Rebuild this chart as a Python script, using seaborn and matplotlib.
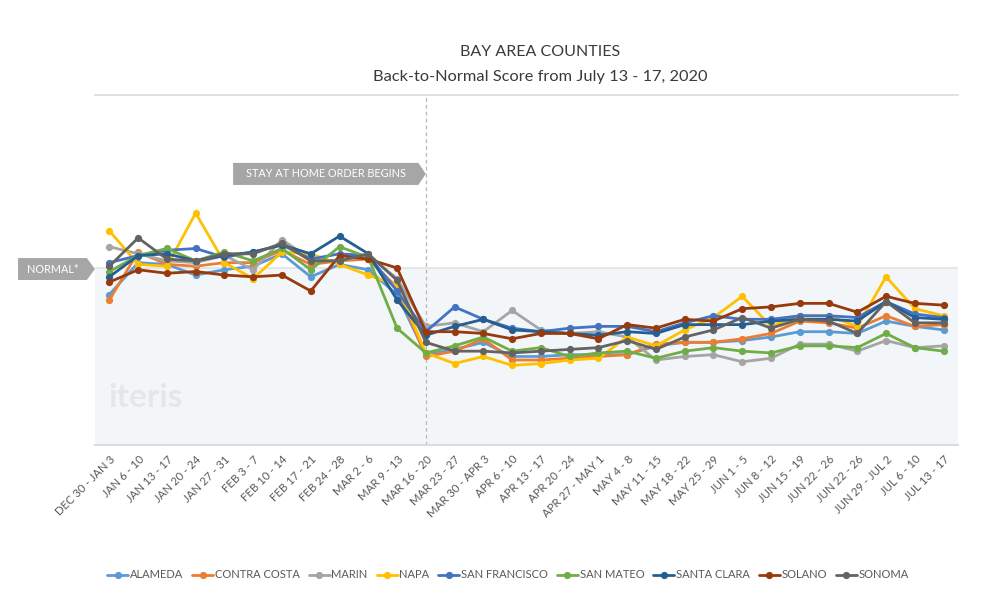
import numpy as np
import pandas as pd
import seaborn as sns
import matplotlib.pyplot as plt
import matplotlib.transforms as mtransforms
from matplotlib.patches import Polygon

weeks = ["DEC 30 - JAN 3", "JAN 6 - 10", "JAN 13 - 17", "JAN 20 - 24", "JAN 27 - 31",
         "FEB 3 - 7", "FEB 10 - 14", "FEB 17 - 21", "FEB 24 - 28", "MAR 2 - 6",
         "MAR 9 - 13", "MAR 16 - 20", "MAR 23 - 27", "MAR 30 - APR 3", "APR 6 - 10",
         "APR 13 - 17", "APR 20 - 24", "APR 27 - MAY 1", "MAY 4 - 8", "MAY 11 - 15",
         "MAY 18 - 22", "MAY 25 - 29", "JUN 1 - 5", "JUN 8 - 12", "JUN 15 - 19",
         "JUN 22 - 26", "JUN 22 - 26", "JUN 29 - JUL 2", "JUL 6 - 10", "JUL 13 - 17"]

# score, normal = 100
alameda = [85, 103, 102, 96, 99, 101, 108, 95, 102, 99, 85, 51, 54, 58, 50,
           50, 51, 51, 51, 56, 58, 58, 59, 61, 64, 64, 63, 70, 67, 65]
contra_costa = [82, 109, 102, 101, 103, 103, 110, 102, 104, 105, 89, 50, 53, 60, 48,
                48, 49, 50, 51, 57, 58, 58, 60, 63, 70, 69, 66, 73, 67, 68]
marin = [112, 108, 104, 103, 107, 99, 116, 105, 104, 107, 94, 67, 69, 64, 76,
         65, 63, 64, 61, 48, 50, 51, 47, 49, 57, 57, 53, 59, 55, 56]
napa = [121, 102, 101, 131, 103, 94, 109, 108, 102, 96, 90, 52, 46, 50, 45,
        46, 48, 49, 61, 56, 65, 72, 84, 67, 73, 73, 67, 95, 77, 73]
san_francisco = [103, 107, 110, 111, 106, 109, 113, 105, 108, 107, 87, 64, 78, 71, 66,
                 64, 66, 67, 67, 64, 69, 73, 71, 71, 73, 73, 72, 81, 74, 72]
san_mateo = [98, 107, 111, 104, 109, 104, 111, 99, 112, 106, 66, 52, 56, 61, 53,
             55, 50, 52, 53, 49, 53, 55, 53, 52, 56, 56, 55, 63, 55, 53]
santa_clara = [95, 107, 108, 104, 107, 109, 113, 108, 118, 108, 82, 62, 67, 71, 65,
               64, 63, 62, 64, 63, 68, 68, 68, 70, 71, 71, 70, 81, 72, 71]
solano = [92, 99, 97, 98, 96, 95, 96, 87, 107, 105, 100, 64, 64, 63, 60,
          63, 63, 60, 68, 66, 71, 70, 77, 78, 80, 80, 75, 84, 80, 79]
sonoma = [101, 117, 105, 104, 108, 108, 114, 104, 104, 108, 93, 58, 53, 53, 52,
          53, 54, 55, 59, 54, 61, 65, 72, 66, 71, 70, 63, 81, 69, 69]

counties = ["ALAMEDA", "CONTRA COSTA", "MARIN", "NAPA", "SAN FRANCISCO",
            "SAN MATEO", "SANTA CLARA", "SOLANO", "SONOMA"]
series = [alameda, contra_costa, marin, napa, san_francisco,
          san_mateo, santa_clara, solano, sonoma]
colors = ["#5B9BD5", "#ED7D31", "#A5A5A5", "#FFC000", "#4472C4",
          "#70AD47", "#255E91", "#973A0E", "#636363"]

rows = []
for name, vals in zip(counties, series):
    for i, v in enumerate(vals):
        rows.append({"pos": i, "score": v, "county": name})
df = pd.DataFrame(rows)

sns.set_theme(style="white")
plt.rcParams["font.family"] = ["Lato", "DejaVu Sans"]

fig = plt.figure(figsize=(9.81, 6.13), dpi=100)
ax = fig.add_axes([95 / 981, 1 - 445 / 613, 863 / 981, 350 / 613])

# normal band
ax.axhspan(0, 100, color="#f3f6f8", zorder=0, lw=0)
ax.axhline(100, color="#e2e6e9", lw=1.3, zorder=1)
ax.axvline(11, color="#b8b8b8", ls=(0, (3, 2.5)), lw=0.9, zorder=1)

sns.lineplot(data=df, x="pos", y="score", hue="county", hue_order=counties,
             palette=colors, marker="o", markersize=5.2, markeredgewidth=0,
             linewidth=2, ax=ax, zorder=3)

ax.set_xlim(-0.5, 29.5)
ax.set_ylim(0, 197.7)
ax.set_yticks([])
ax.set_xlabel("")
ax.set_ylabel("")
for s in ["left", "right"]:
    ax.spines[s].set_visible(False)
ax.spines["top"].set_color("#dedede")
ax.spines["top"].set_linewidth(1.3)
ax.spines["bottom"].set_color("#d9d9d9")
ax.spines["bottom"].set_linewidth(1.3)

ax.set_xticks(range(len(weeks)))
ax.set_xticklabels(weeks, rotation=45, ha="right", va="center",
                   rotation_mode="anchor", fontsize=8.2, color="#595959")
ax.tick_params(axis="x", which="major", length=0, pad=9)
shift = mtransforms.ScaledTranslation(4 / 100, 0, fig.dpi_scale_trans)
for lab in ax.get_xticklabels():
    lab.set_transform(lab.get_transform() + shift)
ax.set_xticks(np.arange(-0.5, len(weeks), 1), minor=True)
ax.tick_params(axis="x", which="minor", direction="in", length=5,
               color="#d9d9d9", width=1)

# watermark
ax.text(0.016, 0.135, "iteris", transform=ax.transAxes, fontsize=24,
        fontweight="bold", color="#e3e7ea", ha="left", va="center", zorder=0)

# stay-at-home tag
tr = mtransforms.blended_transform_factory(ax.transData, ax.transAxes)
x0, x1, tip = 4.3, 11.0, 0.26
y0, y1 = 0.743, 0.806
ax.add_patch(Polygon([(x0, y0), (x1 - tip, y0), (x1, (y0 + y1) / 2),
                      (x1 - tip, y1), (x0, y1)], closed=True, transform=tr,
                     facecolor="#a6a6a6", edgecolor="none", clip_on=False, zorder=4))
ax.text((x0 + x1 - tip) / 2, (y0 + y1) / 2, "STAY AT HOME ORDER BEGINS", transform=tr,
        ha="center", va="center", color="white", fontsize=7.8, zorder=5)

# normal tag
tr2 = mtransforms.blended_transform_factory(ax.transAxes, ax.transData)
nx0, nx1, ntip = -0.0892, 0.0, 0.0095
ny0, ny1 = 93.2, 105.6
ax.add_patch(Polygon([(nx0, ny0), (nx1 - ntip, ny0), (nx1, (ny0 + ny1) / 2),
                      (nx1 - ntip, ny1), (nx0, ny1)], closed=True, transform=tr2,
                     facecolor="#a6a6a6", edgecolor="none", clip_on=False, zorder=4))
ax.text((nx0 + nx1 - ntip) / 2, (ny0 + ny1) / 2, "NORMAL*", transform=tr2,
        ha="center", va="center", color="white", fontsize=7.8, zorder=5)

# titles
fig.text(540 / 981, 1 - 52 / 613, "BAY AREA COUNTIES", ha="center", va="center",
         fontsize=11.5, color="#3a3a3a")
fig.text(540 / 981, 1 - 77 / 613, "Back-to-Normal Score from July 13 - 17, 2020",
         ha="center", va="center", fontsize=11.8, color="#3a3a3a")

handles, labels = ax.get_legend_handles_labels()
ax.get_legend().remove()
fig.legend(handles, labels, loc="center", bbox_to_anchor=(508 / 981, 1 - 575 / 613),
           ncol=9, frameon=False, fontsize=8.0, handlelength=1.9, handletextpad=0.15,
           columnspacing=0.8, labelcolor="#595959")

fig.savefig("out.png", dpi=100)
